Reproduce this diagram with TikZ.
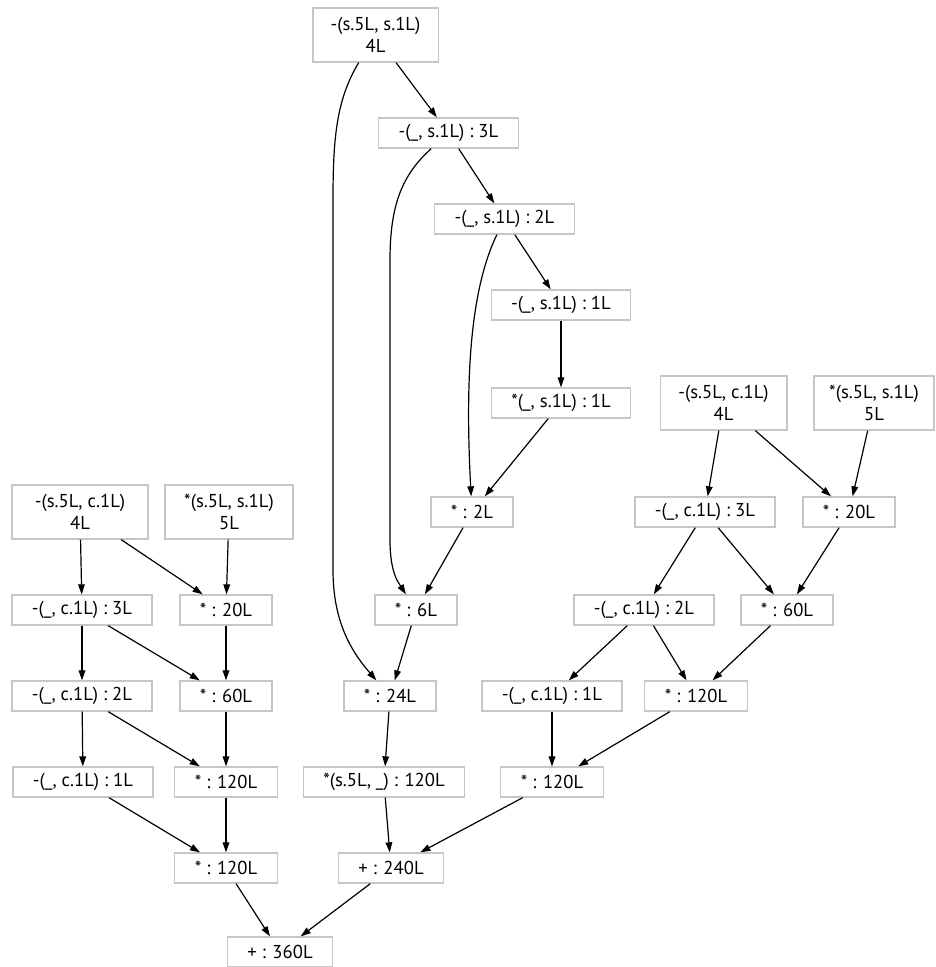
\documentclass[tikz,border=0pt]{standalone}
\usepackage{fontspec}
\setmainfont{PT Sans}
\usetikzlibrary{arrows.meta}

\begin{document}
\begin{tikzpicture}[
			x=0.75pt, y=-0.75pt,
			op/.style={draw=gray!45, line width=1pt, minimum height=22.5pt, inner xsep=15pt, inner ysep=2pt, align=center, font=\fontsize{14}{16.5}\selectfont},
			op2/.style={op, minimum height=40.5pt, inner xsep=3pt, minimum width=95pt},
			line width=0.9pt,
			>={Triangle[length=7.5pt, width=5pt]}
			]
			\useasboundingbox (0,0) rectangle (935,967);
			
			% Catena centrale
			\node[op2, minimum width=94pt] (n1) at (375.5,35) {-(s.5L, s.1L)\\4L};
			\node[op] (n2) at (448.5,133) {-(\_, s.1L) : 3L};
			\node[op] (n3) at (504.5,219) {-(\_, s.1L) : 2L};
			\node[op] (n4) at (561,305) {-(\_, s.1L) : 1L};
			\node[op] (n5) at (561,403) {*(\_, s.1L) : 1L};
			\node[op] (n6) at (472,512) {* : 2L};
			\node[op] (n7) at (416,610) {* : 6L};
			\node[op] (n8) at (390,696) {* : 24L};
			\node[op] (n9) at (384,782) {*(s.5L, \_) : 120L};
			\node[op] (n10) at (391,868) {+ : 240L};
			\node[op] (n11) at (280,952) {+ : 360L};
			
			% Ramo sinistro
			\node[op2, minimum width=102pt] (l1) at (80,512) {-(s.5L, c.1L)\\4L};
			\node[op2, minimum width=96pt] (l2) at (229,512) {*(s.5L, s.1L)\\5L};
			\node[op] (l3) at (82,610) {-(\_, c.1L) : 3L};
			\node[op] (l4) at (226,610) {* : 20L};
			\node[op] (l5) at (82,696) {-(\_, c.1L) : 2L};
			\node[op] (l6) at (226,696) {* : 60L};
			\node[op] (l7) at (83,782) {-(\_, c.1L) : 1L};
			\node[op] (l8) at (226,782) {* : 120L};
			\node[op] (l9) at (226,868) {* : 120L};
			
			% Ramo destro
			\node[op2] (r1) at (723.5,403) {-(s.5L, c.1L)\\4L};
			\node[op2, minimum width=90pt] (r2) at (874,403) {*(s.5L, s.1L)\\5L};
			\node[op] (r3) at (705,512) {-(\_, c.1L) : 3L};
			\node[op] (r4) at (849,512) {* : 20L};
			\node[op] (r5) at (644,610) {-(\_, c.1L) : 2L};
			\node[op] (r6) at (787,610) {* : 60L};
			\node[op] (r7) at (552,696) {-(\_, c.1L) : 1L};
			\node[op] (r8) at (696,696) {* : 120L};
			\node[op] (r9) at (552,782) {* : 120L};
			
			% Archi centrali
			\draw[->] (n1) -- (n2);
			\draw[->] (n2) -- (n3);
			\draw[->] (n3) -- (n4);
			\draw[->] (n4) -- (n5);
			\draw[->] (n5) -- (n6);
			\draw[->] (n6) -- (n7);
			\draw[->] (n7) -- (n8);
			\draw[->] (n8) -- (n9);
			\draw[->] (n9) -- (n10);
			\draw[->] (n10) -- (n11);
			\draw[->] (n1) .. controls (336,100) and (333,140) .. (333,200) -- (333,570) .. controls (333,620) and (350,650) .. (n8);
			\draw[->] (n2) .. controls (402,175) and (390,205) .. (390,260) -- (390,540) .. controls (390,572) and (398,582) .. (n7);
			\draw[->] (n3) .. controls (470,290) and (465,380) .. (n6);
			
			% Archi sinistri
			\draw[->] (l1) -- (l3);
			\draw[->] (l1) -- (l4);
			\draw[->] (l2) -- (l4);
			\draw[->] (l3) -- (l5);
			\draw[->] (l3) -- (l6);
			\draw[->] (l4) -- (l6);
			\draw[->] (l5) -- (l7);
			\draw[->] (l5) -- (l8);
			\draw[->] (l6) -- (l8);
			\draw[->] (l7) -- (l9);
			\draw[->] (l8) -- (l9);
			\draw[->] (l9) -- (n11);
			
			% Archi destri
			\draw[->] (r1) -- (r3);
			\draw[->] (r1) -- (r4);
			\draw[->] (r2) -- (r4);
			\draw[->] (r3) -- (r5);
			\draw[->] (r3) -- (r6);
			\draw[->] (r4) -- (r6);
			\draw[->] (r5) -- (r7);
			\draw[->] (r5) -- (r8);
			\draw[->] (r6) -- (r8);
			\draw[->] (r7) -- (r9);
			\draw[->] (r8) -- (r9);
			\draw[->] (r9) -- (n10);
			
		\end{tikzpicture}
\end{document}
